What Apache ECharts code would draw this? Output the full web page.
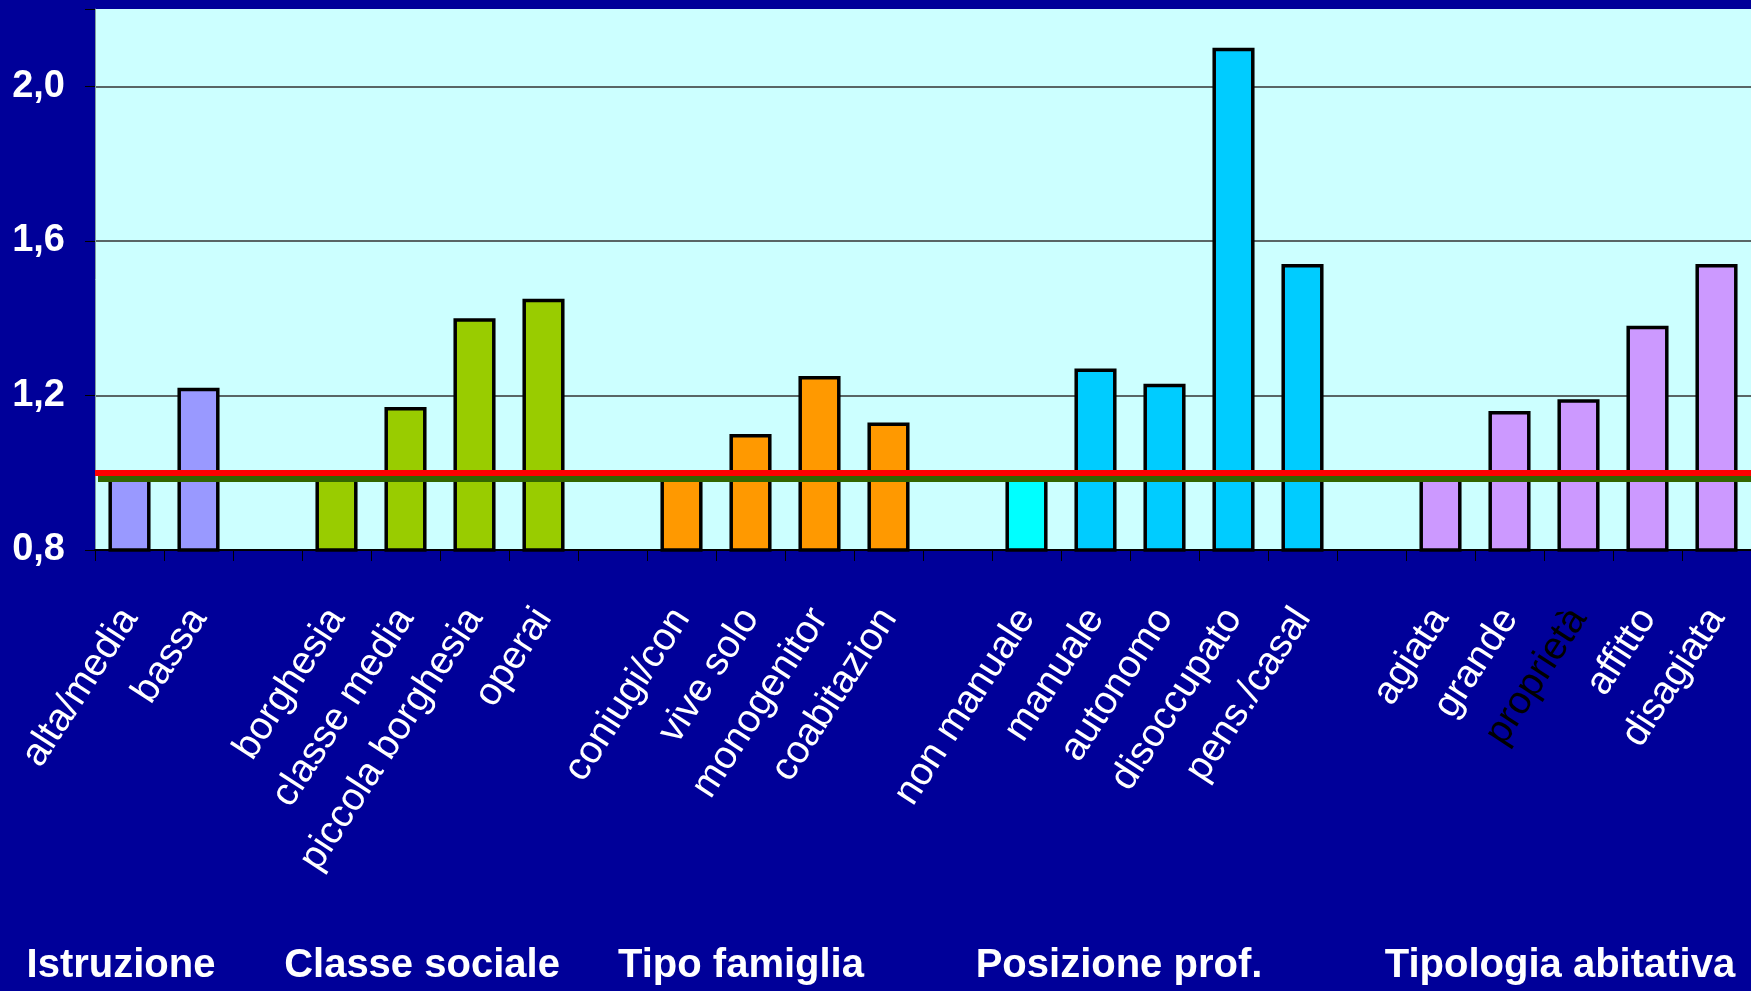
<!DOCTYPE html>
<html>
<head>
<meta charset="utf-8">
<script src="https://cdn.jsdelivr.net/npm/echarts@6/dist/echarts.min.js"></script>
<style>
  html, body { margin: 0; padding: 0; background: #000099; }
  #chart { width: 1751px; height: 991px; }
</style>
</head>
<body>
<div id="chart"></div>
<script>
// Category labels along the x axis (blank slots separate the groups)
const categories = [
  'alta/media', 'bassa', '',
  'borghesia', 'classe media', 'piccola borghesia', 'operai', '',
  'coniugi/con', 'vive solo', 'monogenitor', 'coabitazion', '',
  'non manuale', 'manuale', 'autonomo', 'disoccupato', 'pens./casal', '',
  'agiata', 'grande', 'proprietà', 'affitto', 'disagiata'
];

// Relative values per category (null = group separator)
const values = [
  1.00, 1.22, null,
  1.00, 1.17, 1.40, 1.45, null,
  1.00, 1.10, 1.25, 1.13, null,
  1.00, 1.27, 1.23, 2.10, 1.54, null,
  1.00, 1.16, 1.19, 1.38, 1.54
];

// Group each category belongs to (index into groupNames)
const groupOf = [
  0, 0, null,
  1, 1, 1, 1, null,
  2, 2, 2, 2, null,
  3, 3, 3, 3, 3, null,
  4, 4, 4, 4, 4
];

const groupNames = ['Istruzione', 'Classe sociale', 'Tipo famiglia', 'Posizione prof.', 'Tipologia abitativa'];

// Value axis ticks and the reference level
const yTicks = [0.8, 1.2, 1.6, 2.0];
const referenceLevel = 1.0;

// ---- styling ----
const groupColors = ['#9999FF', '#99CC00', '#FF9900', '#00CCFF', '#CC99FF'];
const colorOverrides = { 'non manuale': '#00FFFF' };
const darkLabels = { 'proprietà': true };
const groupTitleX = [121, 422, 741, 1119, 1560];

const chart = echarts.init(document.getElementById('chart'), null, { renderer: 'canvas' });

const barData = values.map((v, i) => {
  if (v === null) return { value: null };
  const c = colorOverrides[categories[i]] || groupColors[groupOf[i]];
  return { value: v, itemStyle: { color: c } };
});

const axisCategories = categories.map(c => darkLabels[c]
  ? { value: c, textStyle: { color: '#000000' } }
  : c);

const option = {
  backgroundColor: '#000099',
  animation: false,
  grid: {
    left: 95, right: 0, top: 9, bottom: 441,
    show: true, backgroundColor: '#CCFFFF', borderWidth: 0
  },
  xAxis: {
    type: 'category',
    data: axisCategories,
    boundaryGap: true,
    axisLine: { show: true, lineStyle: { color: '#000000', width: 2 } },
    axisTick: { show: true, length: 11, lineStyle: { color: '#000000', width: 1 } },
    axisLabel: {
      interval: 0,
      rotate: 57,
      margin: 62,
      color: '#FFFFFF',
      fontFamily: 'Liberation Sans, Arial, sans-serif',
      fontSize: 39
    },
    splitLine: { show: false }
  },
  yAxis: {
    type: 'value',
    min: 0.8,
    max: 2.2,
    interval: 0.4,
    axisLine: { show: true, lineStyle: { color: '#7f9f9f', width: 1 } },
    axisTick: { show: true, length: 10, lineStyle: { color: '#000000' } },
    axisLabel: {
      margin: 30,
      color: '#FFFFFF',
      fontFamily: 'Liberation Sans, Arial, sans-serif',
      fontWeight: 'bold',
      fontSize: 38,
      formatter: v => yTicks.some(t => Math.abs(t - v) < 1e-6) ? v.toFixed(1).replace('.', ',') : ''
    },
    splitLine: { show: true, showMaxLine: false, lineStyle: { color: '#333333', width: 1.5 } }
  },
  series: [{
    type: 'bar',
    data: barData,
    barWidth: '61%',
    itemStyle: { borderColor: '#000000', borderWidth: 3.5 },
    markLine: {
      silent: true,
      symbol: ['none', 'none'],
      label: { show: false },
      lineStyle: {
        color: '#FF0000', width: 6, type: 'solid',
        shadowColor: '#336600', shadowBlur: 0, shadowOffsetX: 3, shadowOffsetY: 6
      },
      data: [{ yAxis: referenceLevel }]
    }
  }],
  graphic: groupNames.map((name, i) => ({
    type: 'text',
    x: groupTitleX[i],
    y: 966,
    style: {
      text: name,
      fill: '#FFFFFF',
      font: 'bold 40px "Liberation Sans", Arial, sans-serif',
      textAlign: 'center',
      textVerticalAlign: 'middle'
    }
  }))
};

chart.setOption(option);
</script>
</body>
</html>
